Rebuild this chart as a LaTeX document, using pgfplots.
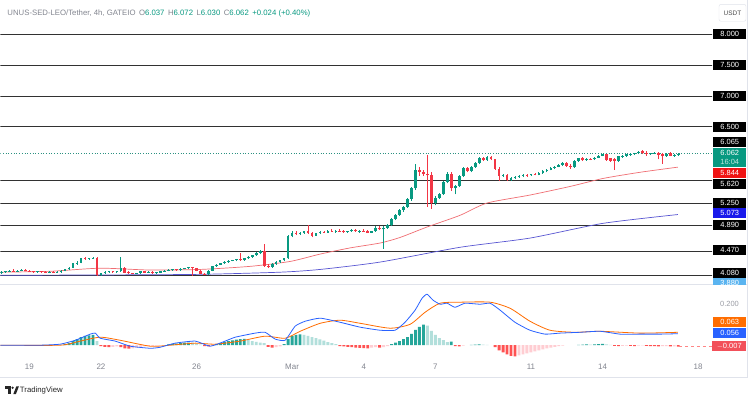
\documentclass[border=0pt]{standalone}
\usepackage{fontspec}
\setmainfont{Liberation Sans}
\usepackage{pgfplots}
\usepackage{pgfplotstable}
\pgfplotsset{compat=1.18}
\definecolor{upc}{RGB}{8,153,129}
\definecolor{dnc}{RGB}{242,54,69}
\definecolor{emar}{RGB}{240,110,115}
\definecolor{emab}{RGB}{88,86,210}
\definecolor{macdb}{RGB}{41,98,255}
\definecolor{macdo}{RGB}{255,109,0}
\definecolor{hA}{RGB}{38,166,154}
\definecolor{hB}{RGB}{178,223,219}
\definecolor{hC}{RGB}{255,205,210}
\definecolor{hD}{RGB}{255,82,82}
\definecolor{tgray}{RGB}{130,133,143}
\definecolor{frame}{RGB}{224,227,235}
\definecolor{lvl}{RGB}{50,50,50}

\pgfplotstableread{
i o h l c
0 4.12 4.15 4.11 4.14
1 4.14 4.16 4.13 4.15
2 4.15 4.17 4.14 4.16
3 4.16 4.18 4.14 4.15
4 4.15 4.17 4.14 4.16
5 4.16 4.19 4.15 4.17
6 4.17 4.18 4.15 4.16
7 4.16 4.17 4.14 4.15
8 4.15 4.16 4.13 4.14
9 4.14 4.16 4.13 4.15
10 4.15 4.16 4.13 4.14
11 4.14 4.15 4.12 4.13
12 4.13 4.15 4.12 4.14
13 4.14 4.15 4.12 4.13
14 4.13 4.15 4.12 4.14
15 4.14 4.17 4.13 4.16
16 4.16 4.19 4.15 4.18
17 4.18 4.22 4.17 4.21
18 4.21 4.29 4.20 4.28
19 4.28 4.31 4.26 4.29
20 4.29 4.37 4.28 4.36
21 4.36 4.38 4.34 4.35
22 4.35 4.37 4.34 4.36
23 4.36 4.38 4.35 4.37
24 4.37 4.38 4.08 4.09
25 4.09 4.13 4.08 4.12
26 4.12 4.15 4.11 4.14
27 4.14 4.16 4.13 4.15
28 4.15 4.16 4.13 4.14
29 4.14 4.16 4.13 4.15
30 4.15 4.38 4.14 4.20
31 4.20 4.22 4.12 4.13
32 4.13 4.15 4.11 4.12
33 4.12 4.13 4.10 4.11
34 4.11 4.13 4.10 4.12
35 4.12 4.16 4.11 4.15
36 4.15 4.16 4.12 4.13
37 4.13 4.15 4.12 4.14
38 4.14 4.15 4.11 4.12
39 4.12 4.14 4.11 4.13
40 4.13 4.16 4.12 4.15
41 4.15 4.17 4.14 4.16
42 4.16 4.18 4.15 4.17
43 4.17 4.19 4.16 4.18
44 4.18 4.19 4.16 4.17
45 4.17 4.20 4.16 4.19
46 4.19 4.21 4.18 4.20
47 4.20 4.22 4.19 4.21
48 4.21 4.22 4.08 4.20
49 4.20 4.21 4.15 4.16
50 4.16 4.17 4.10 4.11
51 4.11 4.13 4.09 4.10
52 4.10 4.17 4.09 4.16
53 4.16 4.24 4.15 4.23
54 4.23 4.27 4.22 4.26
55 4.26 4.29 4.25 4.28
56 4.28 4.31 4.27 4.30
57 4.30 4.33 4.29 4.32
58 4.32 4.34 4.31 4.33
59 4.33 4.35 4.31 4.34
60 4.35 4.45 4.32 4.33
61 4.33 4.37 4.32 4.36
62 4.36 4.40 4.35 4.39
63 4.39 4.42 4.37 4.41
64 4.41 4.46 4.40 4.45
65 4.45 4.50 4.43 4.48
66 4.48 4.60 4.22 4.24
67 4.24 4.27 4.20 4.22
68 4.22 4.28 4.21 4.27
69 4.27 4.31 4.26 4.30
70 4.30 4.34 4.29 4.33
71 4.33 4.37 4.31 4.36
72 4.36 4.74 4.35 4.72
73 4.72 4.80 4.70 4.78
74 4.78 4.80 4.74 4.76
75 4.76 4.79 4.74 4.78
76 4.78 4.81 4.76 4.80
77 4.80 4.90 4.76 4.77
78 4.77 4.79 4.70 4.73
79 4.73 4.78 4.72 4.77
80 4.77 4.80 4.76 4.79
81 4.79 4.81 4.77 4.78
82 4.78 4.82 4.77 4.81
83 4.81 4.83 4.79 4.80
84 4.80 4.82 4.78 4.81
85 4.81 4.83 4.79 4.80
86 4.80 4.82 4.78 4.79
87 4.79 4.81 4.77 4.80
88 4.80 4.83 4.79 4.82
89 4.82 4.84 4.79 4.80
90 4.80 4.82 4.78 4.81
91 4.81 4.83 4.79 4.80
92 4.80 4.82 4.77 4.78
93 4.78 4.81 4.77 4.80
94 4.80 4.88 4.79 4.86
95 4.86 4.88 4.82 4.83
96 4.83 4.88 4.52 4.86
97 4.86 4.92 4.84 4.90
98 4.90 5.01 4.88 5.00
99 5.00 5.08 4.98 5.07
100 5.07 5.16 5.05 5.15
101 5.15 5.21 5.12 5.20
102 5.20 5.34 5.18 5.33
103 5.33 5.52 5.30 5.50
104 5.50 5.90 5.48 5.79
105 5.79 5.84 5.70 5.77
106 5.77 5.80 5.70 5.73
107 5.73 6.04 5.20 5.71
108 5.71 5.76 5.17 5.26
109 5.26 5.37 5.22 5.35
110 5.35 5.43 5.33 5.41
111 5.41 5.62 5.39 5.60
112 5.60 5.76 5.58 5.74
113 5.74 5.76 5.46 5.50
114 5.50 5.56 5.40 5.54
115 5.54 5.72 5.52 5.70
116 5.70 5.85 5.68 5.83
117 5.83 5.85 5.76 5.78
118 5.78 5.87 5.76 5.85
119 5.85 5.93 5.83 5.91
120 5.91 6.01 5.89 5.99
121 5.99 6.01 5.94 5.96
122 5.96 6.02 5.95 6.01
123 6.01 6.03 5.96 5.97
124 5.97 5.98 5.80 5.82
125 5.82 5.84 5.62 5.70
126 5.70 5.74 5.68 5.72
127 5.72 5.73 5.62 5.64
128 5.64 5.68 5.62 5.66
129 5.66 5.70 5.65 5.69
130 5.69 5.72 5.67 5.70
131 5.70 5.73 5.68 5.72
132 5.72 5.74 5.69 5.71
133 5.71 5.74 5.70 5.73
134 5.73 5.75 5.71 5.72
135 5.72 5.76 5.71 5.75
136 5.75 5.79 5.74 5.78
137 5.78 5.81 5.76 5.80
138 5.80 5.84 5.79 5.83
139 5.83 5.86 5.81 5.85
140 5.85 5.89 5.84 5.88
141 5.88 5.93 5.86 5.91
142 5.91 5.93 5.85 5.87
143 5.87 5.90 5.82 5.84
144 5.84 5.96 5.83 5.95
145 5.95 6.00 5.93 5.99
146 5.99 6.01 5.94 5.96
147 5.96 5.99 5.95 5.98
148 5.98 6.00 5.96 5.97
149 5.97 6.01 5.96 6.00
150 6.00 6.04 5.99 6.03
151 6.03 6.06 6.02 6.05
152 6.05 6.06 5.95 5.96
153 5.99 6.00 5.93 5.95
154 5.98 6.00 5.80 5.94
155 5.94 6.03 5.93 6.02
156 6.02 6.04 6.00 6.03
157 6.03 6.06 6.01 6.05
158 6.05 6.07 6.03 6.06
159 6.06 6.08 6.04 6.07
160 6.07 6.10 6.05 6.09
161 6.10 6.12 6.06 6.07
162 6.08 6.10 6.03 6.05
163 6.05 6.08 6.04 6.07
164 6.07 6.09 6.05 6.08
165 6.08 6.09 5.97 6.04
166 6.05 6.07 5.90 6.02
167 6.02 6.07 6.01 6.06
168 6.07 6.09 6.02 6.03
169 6.03 6.05 6.01 6.04
170 6.037 6.072 6.030 6.062
}\candles

\pgfplotstableread{
i v t
16 0.005 1
17 0.010 1
18 0.020 1
19 0.030 1
20 0.040 1
21 0.045 1
22 0.048 1
23 0.050 1
24 0.020 2
25 -0.005 4
26 -0.008 4
27 -0.010 4
28 -0.008 3
29 -0.006 3
30 -0.010 4
31 -0.015 4
32 -0.017 4
33 -0.015 3
34 -0.012 3
35 -0.008 3
36 -0.006 3
37 -0.004 3
38 -0.003 3
39 -0.002 3
42 0.004 1
43 0.006 1
44 0.008 1
45 0.010 1
46 0.012 1
47 0.013 1
48 0.012 2
49 0.008 2
50 0.003 2
51 -0.004 4
52 -0.006 4
53 -0.003 3
54 0.005 1
55 0.010 1
56 0.015 1
57 0.020 1
58 0.024 1
59 0.027 1
60 0.030 1
61 0.031 1
62 0.025 2
63 0.020 2
64 0.016 2
65 0.013 2
66 0.010 2
67 -0.008 4
68 -0.012 4
69 -0.010 3
70 -0.006 3
71 0.005 1
72 0.030 1
73 0.045 1
74 0.050 1
75 0.053 1
76 0.050 2
77 0.045 2
78 0.040 2
79 0.035 2
80 0.028 2
81 0.022 2
82 0.015 2
83 0.010 2
84 0.005 2
85 -0.004 4
86 -0.006 4
87 -0.008 4
88 -0.010 4
89 -0.012 4
90 -0.013 4
91 -0.014 4
92 -0.015 4
93 -0.012 3
94 -0.010 3
95 -0.012 4
96 -0.010 3
97 -0.005 3
98 0.005 1
99 0.012 1
100 0.020 1
101 0.030 1
102 0.040 1
103 0.055 1
104 0.075 1
105 0.090 1
106 0.100 1
107 0.095 2
108 0.070 2
109 0.050 2
110 0.035 2
111 0.025 2
112 0.015 2
113 0.018 1
114 -0.005 4
115 -0.006 4
116 -0.002 3
118 0.002 1
119 0.003 1
120 0.004 1
121 0.003 2
122 0.002 2
124 -0.010 4
125 -0.025 4
126 -0.035 4
127 -0.045 4
128 -0.052 4
129 -0.055 4
130 -0.050 3
131 -0.045 3
132 -0.040 3
133 -0.035 3
134 -0.030 3
135 -0.025 3
136 -0.020 3
137 -0.016 3
138 -0.012 3
139 -0.008 3
140 -0.005 3
141 -0.002 3
145 0.002 1
146 0.003 1
147 0.004 1
148 0.003 2
149 0.004 1
150 0.005 1
151 0.006 1
152 0.004 2
153 0.001 2
154 -0.003 4
155 -0.004 4
156 -0.003 3
157 -0.002 3
158 -0.003 4
159 -0.004 4
160 -0.002 3
161 -0.001 3
162 -0.003 4
163 -0.004 4
164 -0.005 4
165 -0.006 4
166 -0.005 3
167 -0.004 3
168 -0.006 4
169 -0.006 3
170 -0.007 4
}\hist

\begin{document}
\begin{tikzpicture}
\begin{scope}[x=1bp,y=-1bp]
\useasboundingbox (0,0) rectangle (750,397);
\fill[white] (0,0) rectangle (750,397);
\end{scope}

% ---------------- main price panel ----------------
\begin{axis}[at={(0bp,0bp)}, anchor=north west, scale only axis,
  width=712bp, height=283bp,
  xmin=-1.213, xmax=28.58, ymin=3.956, ymax=8.558, hide axis]
% horizontal levels
\foreach \lv in {8,7.5,7,6.5,5.62,5.25,4.89,4.47,4.08}{
  \edef\tmp{\noexpand\addplot[lvl, line width=0.9bp, forget plot] coordinates {(-2,\lv) (29,\lv)};}
  \tmp
}
\addplot[upc!70!gray, line width=0.7bp, dotted, forget plot] coordinates {(-2,6.062) (29,6.062)};
% EMAs
\addplot[emab, line width=0.7bp, smooth, tension=0.4] coordinates {
(-1.213,4.085) (2.971,4.09) (7.155,4.10) (10.50,4.135) (12.18,4.18) (14.69,4.30)
(18.03,4.54) (20.96,4.69) (24.02,4.93) (27.15,5.073)};
\addplot[emar, line width=0.7bp, smooth, tension=0.4] coordinates {
(-1.213,4.135) (0.879,4.15) (2.971,4.20) (5.063,4.17) (7.155,4.18) (9.247,4.23)
(10.92,4.31) (12.18,4.43) (13.43,4.53) (14.69,4.61) (15.52,4.70) (16.65,4.87)
(18.03,5.06) (19.16,5.26) (20.96,5.39) (22.64,5.53) (24.02,5.66) (25.56,5.76) (27.15,5.844)};
% wicks
\addplot[draw=none, mark=none, forget plot,
  restrict expr to domain={\thisrow{c}-\thisrow{o}}{0:10},
  error bars/.cd, y dir=plus, y explicit, error mark=none,
  error bar style={line width=0.8bp, upc}]
  table[x expr=\thisrow{i}/6-7/6, y expr=\thisrow{l}, y error plus expr=\thisrow{h}-\thisrow{l}] {\candles};
\addplot[draw=none, mark=none, forget plot,
  restrict expr to domain={\thisrow{c}-\thisrow{o}}{-10:-0.0001},
  error bars/.cd, y dir=plus, y explicit, error mark=none,
  error bar style={line width=0.8bp, dnc}]
  table[x expr=\thisrow{i}/6-7/6, y expr=\thisrow{l}, y error plus expr=\thisrow{h}-\thisrow{l}] {\candles};
% bodies
\addplot[draw=none, mark=none, forget plot,
  restrict expr to domain={\thisrow{c}-\thisrow{o}}{0:10},
  error bars/.cd, y dir=plus, y explicit, error mark=none,
  error bar style={line width=2.7bp, upc}]
  table[x expr=\thisrow{i}/6-7/6, y expr=\thisrow{o}, y error plus expr={max(\thisrow{c}-\thisrow{o},0.012)}] {\candles};
\addplot[draw=none, mark=none, forget plot,
  restrict expr to domain={\thisrow{c}-\thisrow{o}}{-10:-0.0001},
  error bars/.cd, y dir=plus, y explicit, error mark=none,
  error bar style={line width=2.7bp, dnc}]
  table[x expr=\thisrow{i}/6-7/6, y expr=\thisrow{c}, y error plus expr={max(\thisrow{o}-\thisrow{c},0.012)}] {\candles};
\end{axis}

% ---------------- MACD panel ----------------
\begin{axis}[at={(0bp,-285bp)}, anchor=north west, scale only axis,
  width=712bp, height=73bp,
  xmin=-1.213, xmax=28.58, ymin=-0.0634, ymax=0.293,
  axis line style={draw=none}, ytick=\empty,
  xtick={0,3,7,11,14,17,21,24,28},
  xticklabels={19,22,26,Mar,4,7,11,14,18},
  major tick length=0pt,
  xticklabel style={font=\fontsize{8}{9}\selectfont, text=tgray, yshift=-2.5bp}]
\addplot[ybar, bar width=2.9bp, bar shift=0pt, draw=none, fill=hA, restrict expr to domain={\thisrow{t}}{1:1}]
  table[x expr=\thisrow{i}/6-7/6, y=v] {\hist};
\addplot[ybar, bar width=2.9bp, bar shift=0pt, draw=none, fill=hB, restrict expr to domain={\thisrow{t}}{2:2}]
  table[x expr=\thisrow{i}/6-7/6, y=v] {\hist};
\addplot[ybar, bar width=2.9bp, bar shift=0pt, draw=none, fill=hC, restrict expr to domain={\thisrow{t}}{3:3}]
  table[x expr=\thisrow{i}/6-7/6, y=v] {\hist};
\addplot[ybar, bar width=2.9bp, bar shift=0pt, draw=none, fill=hD, restrict expr to domain={\thisrow{t}}{4:4}]
  table[x expr=\thisrow{i}/6-7/6, y=v] {\hist};
\addplot[hD!70, dashed, line width=0.5bp] coordinates {(27.2,-0.007) (28.6,-0.007)};
\addplot[macdo, line width=0.8bp, smooth, tension=0.4] coordinates {
(-1.213,0) (1.297,0.0) (2.134,0.02) (2.971,0.039) (3.808,0.024) (5.063,-0.005)
(5.900,0.0) (6.946,0.01) (7.782,0.005) (8.828,0.02) (9.874,0.044) (10.71,0.034)
(11.34,0.068) (12.18,0.107) (13.01,0.122) (13.85,0.107) (15.10,0.083) (15.94,0.102)
(16.57,0.161) (17.20,0.205) (18.03,0.21) (19.29,0.21) (20.13,0.18) (20.96,0.117)
(21.80,0.073) (22.85,0.063) (23.89,0.068) (25.56,0.059) (27.15,0.063)};
\addplot[macdb, line width=0.8bp, smooth, tension=0.3] coordinates {
(-1.213,0) (0.460,0.0) (1.297,0.005) (1.925,0.024) (2.552,0.054) (2.762,0.059)
(2.971,0.034) (3.598,0.02) (4.226,-0.005) (5.063,-0.015) (5.481,-0.01) (6.109,0.01)
(6.946,0.02) (7.573,-0.005) (8.201,0.02) (8.619,0.039) (9.456,0.059) (9.874,0.063)
(10.29,0.03) (10.71,0.024) (11.13,0.093) (11.55,0.117) (12.18,0.132) (13.01,0.112)
(13.85,0.088) (14.69,0.073) (15.31,0.073) (15.73,0.112) (16.15,0.171) (16.44,0.229)
(16.65,0.249) (16.90,0.22) (17.20,0.2) (17.49,0.205) (17.82,0.185) (18.24,0.205)
(18.87,0.2) (19.29,0.205) (19.71,0.171) (20.33,0.112) (20.96,0.073) (21.59,0.054)
(22.22,0.059) (23.05,0.063) (23.89,0.068) (24.73,0.054) (25.56,0.054) (26.40,0.054) (27.15,0.056)};
\end{axis}

% ---------------- annotations ----------------
\begin{scope}[x=1bp,y=-1bp]
\draw[frame, line width=0.6bp] (0,284.5) -- (747,284.5);
\draw[frame, line width=0.6bp] (0,377.5) -- (747,377.5);
\draw[frame, line width=0.6bp] (747,0) -- (747,377.5);
% header
\node[anchor=west, inner sep=0pt, font=\fontsize{7.8}{10}\selectfont] at (7,13)
 {\textcolor{tgray}{UNUS-SED-LEO/Tether, 4h, GATEIO}\hspace{3.5bp}\textcolor{tgray}{O}\textcolor{upc}{6.037}\hspace{3.5bp}\textcolor{tgray}{H}\textcolor{upc}{6.072}\hspace{3.5bp}\textcolor{tgray}{L}\textcolor{upc}{6.030}\hspace{3.5bp}\textcolor{tgray}{C}\textcolor{upc}{6.062}\hspace{3.5bp}\textcolor{upc}{+0.024 (+0.40\%)}};
% USDT
\draw[frame, fill=white, rounded corners=2bp] (719,4) rectangle (746,21);
\node[font=\fontsize{6.5}{7}\selectfont, text=black!70] at (732.5,12.5) {USDT};
% price labels
\tikzset{pl/.style={anchor=west, inner sep=0pt, minimum width=33bp, minimum height=10bp, font=\fontsize{7.5}{8}\selectfont, text=white}}
\foreach \yy/\tt in {34/8.000,65/7.500,96/7.000,127/6.500,142/6.065,184/5.620,202.5/5.250,225/4.890,250/4.470,273/4.080}{
  \node[pl, fill=black] at (713,\yy) {\tt};
}
\node[pl, fill=upc, minimum height=19bp, align=center, font=\fontsize{7.5}{9}\selectfont] at (713,157.5) {6.062\\\textcolor{white!75!upc}{16:04}};
\node[pl, fill={rgb,255:red,240;green,20;blue,20}] at (713,172.5) {5.844};
\node[pl, fill={rgb,255:red,25;green,25;blue,235}] at (713,213) {5.073};
\begin{scope}
\clip (700,270) rectangle (750,284);
\node[pl, fill={rgb,255:red,90;green,180;blue,240}] at (713,283) {3.880};
\end{scope}
% MACD labels
\node[font=\fontsize{7.5}{8}\selectfont, text=tgray!80] at (729.5,304) {0.200};
\node[pl, fill=macdo] at (713,322) {0.063};
\node[pl, fill=macdb] at (713,333) {0.056};
\node[pl, fill={rgb,255:red,242;green,80;blue,90}, minimum width=34bp] at (712,346) {$-$0.007};
% logo
\fill[black!85] (5,386.3) rectangle (10.5,388.6);
\fill[black!85] (8,386.3) rectangle (10.5,394);
\fill[black!85] (12.3,387.6) circle (1.3bp);
\fill[black!85] (13,394) -- (16,386.3) -- (18.6,386.3) -- (15.6,394) -- cycle;
\node[anchor=west, inner sep=0pt, font=\fontsize{7.8}{9}\selectfont, text=black!85] at (19.5,390.2) {TradingView};
\end{scope}
\end{tikzpicture}
\end{document}
